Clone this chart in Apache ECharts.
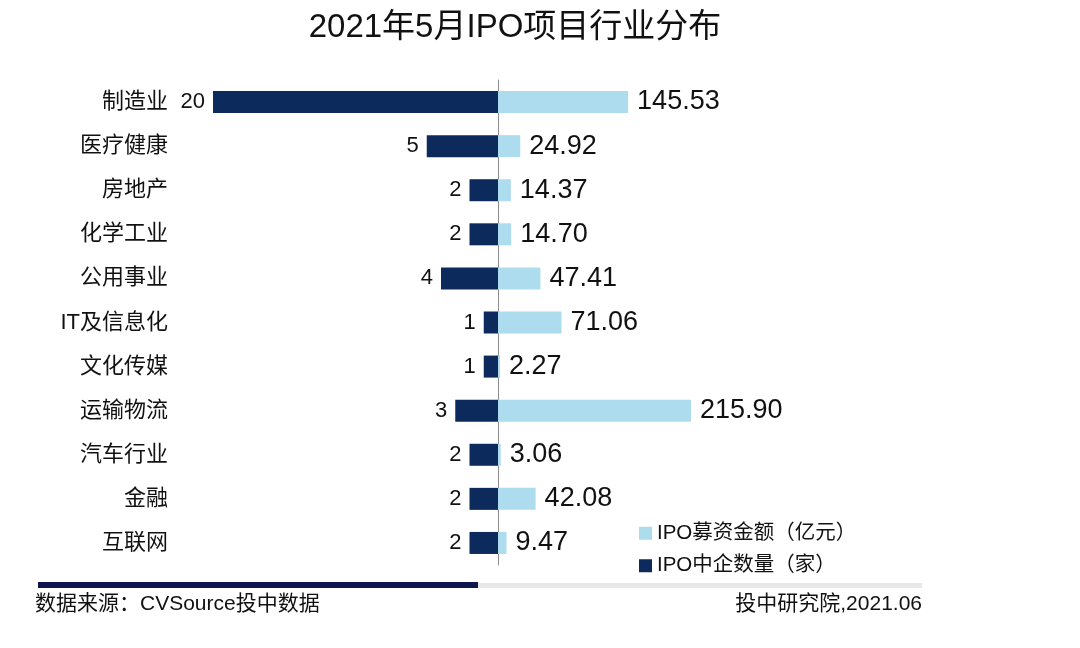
<!DOCTYPE html>
<html>
<head>
<meta charset="utf-8">
<script src="https://cdn.jsdelivr.net/npm/echarts@6/dist/echarts.min.js"></script>
<style>
  html, body { margin: 0; padding: 0; background: #fff; }
  #main { width: 1080px; height: 648px; }
</style>
</head>
<body>
<div id="main"></div>
<script>
// 行业分类
var categories = ['制造业', '医疗健康', '房地产', '化学工业', '公用事业', 'IT及信息化', '文化传媒', '运输物流', '汽车行业', '金融', '互联网'];
// IPO中企数量（家）
var counts = [20, 5, 2, 2, 4, 1, 1, 3, 2, 2, 2];
// IPO募资金额（亿元）
var amounts = [145.53, 24.92, 14.37, 14.70, 47.41, 71.06, 2.27, 215.90, 3.06, 42.08, 9.47];

var seriesNames = ['IPO募资金额（亿元）', 'IPO中企数量（家）'];

var FONT = '"Liberation Sans", "Noto Sans CJK SC", sans-serif';
var DARK = '#0c2a5b';
var LIGHT = '#aedcef';

var chart = echarts.init(document.getElementById('main'));

var option = {
    backgroundColor: '#fff',
    textStyle: { fontFamily: FONT },
    title: {
        text: '2021年5月IPO项目行业分布',
        left: 510,
        textAlign: 'center',
        top: 6,
        textStyle: { fontSize: 33, fontWeight: 'normal', color: '#111', fontFamily: FONT }
    },
    legend: {
        orient: 'vertical',
        left: 634,
        top: 518,
        icon: 'rect',
        itemWidth: 13,
        itemHeight: 13,
        itemGap: 12,
        data: seriesNames,
        textStyle: { fontSize: 20.5, color: '#111', fontFamily: FONT }
    },
    grid: [
        { left: 213, width: 285, top: 80, height: 485 },
        { left: 498, width: 193, top: 80, height: 485 }
    ],
    xAxis: [
        { gridIndex: 0, type: 'value', inverse: true, min: 0, max: 'dataMax', show: false },
        { gridIndex: 1, type: 'value', min: 0, max: 'dataMax', show: false }
    ],
    yAxis: [
        {
            gridIndex: 0, type: 'category', data: categories, inverse: true,
            axisLine: { show: false }, axisTick: { show: false }, splitLine: { show: false },
            axisLabel: { margin: 45, fontSize: 22, color: '#111', fontFamily: FONT }
        },
        {
            gridIndex: 1, type: 'category', data: categories, inverse: true,
            axisLine: { show: true, lineStyle: { color: '#8c8c8c', width: 1 } },
            axisTick: { show: false }, splitLine: { show: false },
            axisLabel: { show: false }
        }
    ],
    series: [
        {
            name: seriesNames[1],
            type: 'bar',
            xAxisIndex: 0,
            yAxisIndex: 0,
            data: counts,
            barWidth: 22,
            itemStyle: { color: DARK },
            label: {
                show: true, position: 'left', distance: 8,
                fontSize: 22, color: '#111', fontFamily: FONT
            }
        },
        {
            name: seriesNames[0],
            type: 'bar',
            xAxisIndex: 1,
            yAxisIndex: 1,
            data: amounts,
            barWidth: 22,
            itemStyle: { color: LIGHT },
            label: {
                show: true, position: 'right', distance: 9,
                fontSize: 27, color: '#111', fontFamily: FONT,
                formatter: function (p) { return p.value.toFixed(2); }
            }
        }
    ],
    graphic: [
        { type: 'rect', left: 38, top: 583, shape: { width: 884, height: 5 }, style: { fill: '#e8e8e8' } },
        { type: 'rect', left: 38, top: 582, shape: { width: 440, height: 6 }, style: { fill: '#0e1650' } },
        {
            type: 'text', left: 35, top: 594,
            style: { text: '数据来源：CVSource投中数据', fontSize: 21, fill: '#111', fontFamily: FONT }
        },
        {
            type: 'text', right: 158, top: 594,
            style: { text: '投中研究院,2021.06', fontSize: 21, fill: '#111', fontFamily: FONT }
        }
    ]
};

chart.setOption(option);
</script>
</body>
</html>
